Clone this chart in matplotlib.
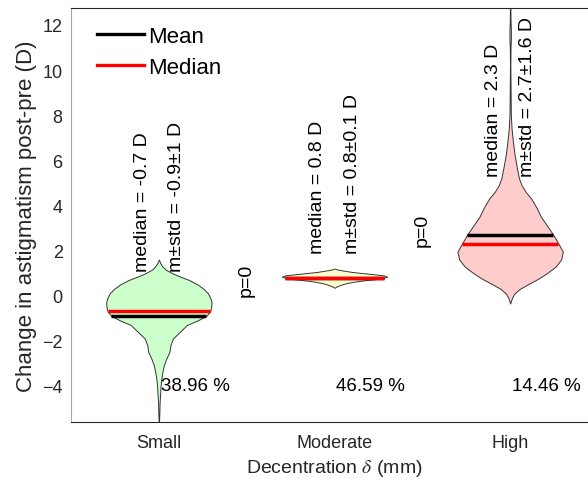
import numpy as np
import matplotlib
matplotlib.use('Agg')
import matplotlib.pyplot as plt
from matplotlib.lines import Line2D

plt.rcParams['font.family'] = ['Liberation Sans', 'DejaVu Sans']
plt.rcParams['mathtext.fontset'] = 'stix'

# groups of decentration
categories = ['Small', 'Moderate', 'High']
positions = [1, 2, 3]
face_colors = ['#ccffcc', '#ffffcc', '#ffcccc']

# summary stats per group
medians = [-0.7, 0.8, 2.3]
means = [-0.9, 0.8, 2.7]
stds = [1.0, 0.1, 1.6]
std_labels = ['1', '0.1', '1.6']
shares = [38.96, 46.59, 14.46]

# violin outlines: y level and half width (x units)
small_y = [1.6, 1.45, 1.3, 1.15, 1.0, 0.85, 0.7, 0.5, 0.3, 0.1, -0.1, -0.3,
           -0.5, -0.7, -0.9, -1.1, -1.3, -1.6, -1.9, -2.2, -2.5, -2.8, -3.1,
           -3.4, -3.7, -4.0, -4.4, -4.8, -5.2, -5.8]
small_w = [0.0, 0.008, 0.02, 0.04, 0.075, 0.12, 0.17, 0.22, 0.255, 0.28, 0.293,
           0.3, 0.298, 0.292, 0.27, 0.22, 0.16, 0.12, 0.08, 0.066, 0.06, 0.042,
           0.028, 0.02, 0.014, 0.01, 0.007, 0.004, 0.003, 0.0]

moderate_y = [1.2, 1.15, 1.1, 1.05, 1.0, 0.95, 0.9, 0.84, 0.75, 0.7, 0.63,
              0.56, 0.49, 0.42, 0.35]
moderate_w = [0.0, 0.02, 0.06, 0.1, 0.16, 0.22, 0.28, 0.3, 0.26, 0.19, 0.12,
              0.07, 0.04, 0.015, 0.0]

high_y = [13.0, 12.2, 11.8, 11.4, 11.0, 10.2, 9.4, 8.6, 8.0, 7.4, 6.8, 6.2,
          5.6, 5.2, 4.9, 4.6, 4.3, 3.9, 3.5, 3.1, 2.7, 2.3, 1.95, 1.6, 1.3,
          1.0, 0.75, 0.5, 0.3, 0.1, -0.1, -0.35]
high_w = [0.001, 0.002, 0.004, 0.004, 0.002, 0.001, 0.002, 0.003, 0.004, 0.008,
          0.016, 0.026, 0.04, 0.05, 0.065, 0.088, 0.12, 0.15, 0.175, 0.21, 0.245,
          0.275, 0.3, 0.29, 0.26, 0.21, 0.16, 0.1, 0.055, 0.025, 0.01, 0.0]

outlines = [(small_y, small_w), (moderate_y, moderate_w), (high_y, high_w)]

fig = plt.figure(figsize=(5.88, 4.81), dpi=100)
ax = fig.add_axes([71 / 588, 58 / 481, 527 / 588, 414 / 481])

for pos, (vy, vw), fc, med, mu, sd, sl, pc in zip(
        positions, outlines, face_colors, medians, means, stds, std_labels, shares):
    vy = np.array(vy)
    vw = np.array(vw)
    ax.fill_betweenx(vy, pos - vw, pos + vw, facecolor=fc, edgecolor='#333333',
                     linewidth=0.7, zorder=2)
    # mean and median bars span the violin at that level
    wm = np.interp(mu, vy[::-1], vw[::-1])
    wd = np.interp(med, vy[::-1], vw[::-1])
    ax.plot([pos - wm, pos + wm], [mu, mu], color='black', lw=2.5, zorder=3,
            solid_capstyle='butt')
    ax.plot([pos - wd, pos + wd], [med, med], color='red', lw=2.5, zorder=4,
            solid_capstyle='butt')

    ytxt = mu + sd + 1
    ax.text(pos - 0.095, ytxt, f'median = {med:g} D', rotation=90,
            ha='center', va='bottom', fontsize=14, zorder=5)
    ax.text(pos + 0.1, ytxt, f'm\u00b1std = {mu:g}\u00b1{sl} D', rotation=90,
            ha='center', va='bottom', fontsize=14, zorder=5)
    ax.text(pos + 0.01, -4, f'{pc:.2f} %', ha='left', va='center', fontsize=13.5,
            zorder=5)

# p-values between neighbouring groups
ax.text(1.5, 0.0, 'p=0', rotation=90, ha='center', va='bottom', fontsize=14)
ax.text(2.5, 2.2, 'p=0', rotation=90, ha='center', va='bottom', fontsize=14)

ax.set_xlim(0.5, 3.5)
ax.set_ylim(-5.6, 12.75)
ax.set_xticks(positions)
ax.set_xticklabels(categories)
ax.set_yticks(np.arange(-4, 13, 2))
ax.tick_params(axis='both', length=0, labelsize=13, colors='#262626')
ax.tick_params(axis='x', pad=9)
ax.tick_params(axis='y', pad=6)

ax.spines['left'].set_color('#a6a6a6')
for s in ['top', 'bottom', 'right']:
    ax.spines[s].set_color('#262626')

ax.set_xlabel(r'Decentration $\delta$ (mm)', fontsize=14, color='#262626',
              labelpad=4)
ax.set_ylabel('Change in astigmatism post-pre (D)', fontsize=16,
              color='#262626', labelpad=4)

handles = [Line2D([], [], color='black', lw=2.4),
           Line2D([], [], color='red', lw=2.4)]
ax.legend(handles, ['Mean', 'Median'], loc='upper left', frameon=False,
          fontsize=16, handlelength=2.1, handletextpad=0.2, labelspacing=0.45,
          bbox_to_anchor=(0.02, 0.995), borderaxespad=0.3)

fig.savefig('out.png', dpi=100)
